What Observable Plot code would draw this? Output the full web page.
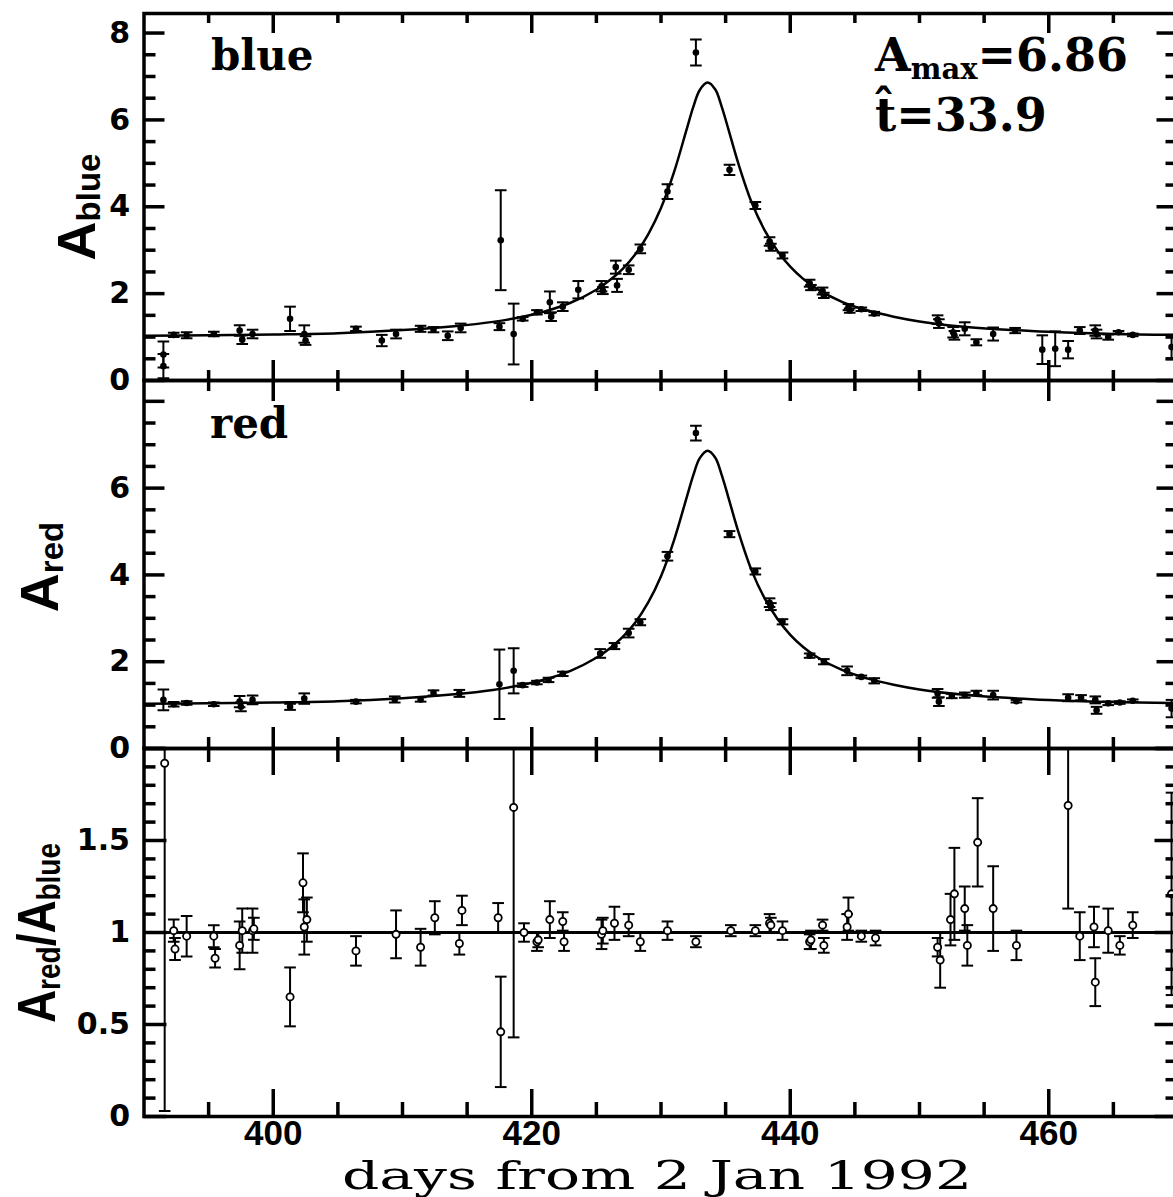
<!DOCTYPE html>
<html><head><meta charset="utf-8">
<script src="https://cdn.jsdelivr.net/npm/d3@7"></script>
<script src="https://cdn.jsdelivr.net/npm/@observablehq/plot@0.6"></script>
<style>
html,body{margin:0;padding:0;background:#fff;overflow:hidden;}
#chart{position:relative;width:1173px;height:1197px;overflow:hidden;background:#fff;}
#chart > div{position:absolute;left:0;width:1180px;}
#chart svg{max-width:none !important;overflow:visible !important;background:transparent !important;display:block;}
</style></head><body><div id="chart"></div>
<script>
// ---------------- data ----------------
const xDomain = [390, 470];
const xMajorTicks = [400, 420, 440, 460];
const xMinorTicks = [395, 405, 410, 415, 425, 430, 435, 445, 450, 455, 465];
const xTickLabels = ["400", "420", "440", "460"];

const ampMajorTicks = [0, 2, 4, 6, 8];
const ampMinorTicks = [0.5, 1, 1.5, 2.5, 3, 3.5, 4.5, 5, 5.5, 6.5, 7, 7.5];
const blueTickValues = [0, 2, 4, 6, 8];
const blueTickLabels = ["0", "2", "4", "6", "8"];
const redTickValues = [0, 2, 4, 6];
const redTickLabels = ["0", "2", "4", "6"];
const ratioMajorTicks = [0, 0.5, 1, 1.5, 2];
const ratioMinorTicks = [0.1, 0.2, 0.3, 0.4, 0.6, 0.7, 0.8, 0.9, 1.1, 1.2, 1.3, 1.4, 1.6, 1.7, 1.8, 1.9];
const ratioTickValues = [0, 0.5, 1, 1.5];
const ratioTickLabels = ["0", "0.5", "1", "1.5"];

const blueDays = [391.5, 391.5, 392.3, 393.3, 395.4, 397.4, 397.6, 398.4, 401.3, 402.4, 402.5, 406.4, 408.4, 409.5, 411.4, 412.4, 413.5, 414.5, 417.5, 417.6, 418.6, 419.3, 420.4, 421.4, 421.5, 422.4, 423.6, 425.4, 425.5, 426.5, 426.6, 427.5, 428.4, 430.5, 432.7, 435.3, 437.3, 438.4, 438.5, 439.4, 441.5, 441.6, 442.5, 442.6, 444.5, 444.6, 445.5, 446.5, 451.4, 451.5, 452.6, 452.7, 453.5, 454.4, 455.7, 457.4, 459.5, 460.5, 461.5, 462.4, 463.6, 463.7, 464.6, 465.4, 466.5, 469.5];
const blueValues = [0.60, 0.33, 1.05, 1.04, 1.07, 1.15, 0.94, 1.07, 1.42, 1.07, 0.92, 1.19, 0.92, 1.07, 1.19, 1.17, 1.03, 1.21, 1.24, 3.23, 1.07, 1.42, 1.57, 1.80, 1.47, 1.70, 2.09, 2.17, 2.07, 2.61, 2.19, 2.55, 3.03, 4.35, 7.55, 4.85, 4.03, 3.20, 3.07, 2.88, 2.24, 2.14, 2.06, 1.96, 1.69, 1.61, 1.64, 1.54, 1.40, 1.31, 1.11, 1.04, 1.19, 0.88, 1.07, 1.15, 0.71, 0.73, 0.71, 1.15, 1.15, 1.07, 1.00, 1.11, 1.05, 0.77];
const blueErrors = [0.30, 0.28, 0.05, 0.07, 0.05, 0.12, 0.10, 0.10, 0.28, 0.20, 0.10, 0.05, 0.13, 0.10, 0.07, 0.06, 0.10, 0.10, 0.08, 1.15, 0.70, 0.04, 0.05, 0.25, 0.10, 0.10, 0.20, 0.12, 0.08, 0.15, 0.15, 0.10, 0.10, 0.17, 0.30, 0.12, 0.08, 0.10, 0.08, 0.07, 0.08, 0.06, 0.08, 0.06, 0.07, 0.05, 0.04, 0.04, 0.10, 0.10, 0.12, 0.10, 0.15, 0.07, 0.15, 0.06, 0.33, 0.40, 0.20, 0.08, 0.12, 0.10, 0.06, 0.03, 0.03, 0.28];

const redDays = [391.5, 392.3, 393.3, 395.4, 397.4, 397.5, 398.4, 401.3, 402.4, 406.4, 409.4, 411.4, 412.4, 414.4, 417.5, 418.6, 419.3, 420.4, 421.3, 422.4, 425.3, 426.4, 427.5, 428.4, 430.5, 432.7, 435.3, 437.3, 438.4, 438.5, 439.4, 441.5, 442.6, 444.4, 445.5, 446.5, 451.4, 451.5, 452.5, 453.5, 454.4, 455.7, 457.5, 461.5, 462.5, 463.6, 463.7, 464.6, 465.5, 466.5, 469.5];
const redValues = [1.12, 1.02, 1.05, 1.02, 1.08, 0.96, 1.12, 0.96, 1.15, 1.08, 1.13, 1.13, 1.28, 1.27, 1.48, 1.79, 1.46, 1.52, 1.58, 1.72, 2.19, 2.36, 2.66, 2.91, 4.43, 7.27, 4.94, 4.08, 3.36, 3.27, 2.92, 2.14, 2.00, 1.79, 1.65, 1.56, 1.27, 1.08, 1.21, 1.23, 1.28, 1.23, 1.09, 1.17, 1.17, 1.12, 0.88, 1.04, 1.06, 1.10, 0.92];
const redErrors = [0.24, 0.05, 0.04, 0.04, 0.13, 0.10, 0.10, 0.07, 0.12, 0.04, 0.07, 0.05, 0.06, 0.08, 0.80, 0.52, 0.04, 0.04, 0.05, 0.05, 0.10, 0.07, 0.10, 0.07, 0.10, 0.17, 0.07, 0.07, 0.10, 0.08, 0.06, 0.05, 0.06, 0.10, 0.03, 0.06, 0.10, 0.10, 0.05, 0.06, 0.05, 0.10, 0.03, 0.08, 0.06, 0.08, 0.08, 0.04, 0.03, 0.03, 0.20];

const ratioDays = [391.6, 392.3, 392.4, 393.3, 395.4, 395.5, 397.4, 397.6, 398.4, 398.5, 401.3, 402.3, 402.4, 402.6, 406.4, 409.5, 411.4, 412.5, 414.4, 414.6, 417.4, 417.6, 418.6, 419.4, 420.4, 420.5, 421.4, 422.4, 422.5, 425.4, 425.5, 426.4, 427.5, 428.4, 430.5, 432.7, 435.4, 437.3, 438.4, 438.5, 439.4, 441.5, 441.6, 442.5, 442.6, 444.4, 444.5, 445.5, 446.6, 451.4, 451.6, 452.4, 452.7, 453.5, 453.7, 454.5, 455.7, 457.5, 461.5, 462.4, 463.5, 463.6, 464.6, 465.5, 466.5, 469.5];
const ratioValues = [1.92, 1.01, 0.91, 0.98, 0.98, 0.86, 0.93, 1.01, 1.01, 1.02, 0.65, 1.27, 1.03, 1.07, 0.90, 0.99, 0.92, 1.08, 0.94, 1.12, 1.08, 0.46, 1.68, 1.00, 0.95, 0.96, 1.07, 1.06, 0.95, 0.99, 1.01, 1.05, 1.04, 0.95, 1.01, 0.95, 1.01, 1.01, 1.05, 1.04, 1.01, 0.95, 0.96, 1.04, 0.93, 1.03, 1.10, 0.98, 0.97, 0.92, 0.85, 1.07, 1.21, 1.13, 0.93, 1.49, 1.13, 0.93, 1.69, 0.98, 1.03, 0.73, 1.01, 0.93, 1.04, 1.21];
const ratioErrors = [1.89, 0.06, 0.06, 0.11, 0.06, 0.05, 0.13, 0.12, 0.12, 0.06, 0.16, 0.16, 0.15, 0.12, 0.08, 0.13, 0.10, 0.09, 0.06, 0.08, 0.08, 0.30, 1.25, 0.05, 0.05, 0.04, 0.10, 0.05, 0.05, 0.08, 0.07, 0.09, 0.06, 0.05, 0.05, 0.03, 0.03, 0.03, 0.05, 0.04, 0.05, 0.04, 0.05, 0.03, 0.04, 0.07, 0.09, 0.03, 0.04, 0.05, 0.15, 0.14, 0.25, 0.12, 0.11, 0.24, 0.23, 0.08, 0.56, 0.13, 0.11, 0.13, 0.12, 0.05, 0.07, 0.55];

// fitted light curve (same curve in both colour panels)
const curveDays = [390, 395, 400, 405, 410, 414, 417, 419, 421, 423, 425, 426, 427, 428, 429, 430, 431, 432, 432.5, 433, 433.6, 434.2, 434.7, 435.2, 436, 437, 438, 439, 440, 441, 442, 444, 446, 448, 450, 453, 456, 460, 465, 470];
const curveValues = [1.03, 1.04, 1.06, 1.09, 1.16, 1.25, 1.35, 1.45, 1.59, 1.79, 2.09, 2.30, 2.56, 2.90, 3.36, 3.97, 4.79, 5.80, 6.30, 6.69, 6.86, 6.70, 6.30, 5.80, 4.98, 4.11, 3.47, 2.99, 2.62, 2.34, 2.12, 1.81, 1.61, 1.47, 1.36, 1.25, 1.18, 1.12, 1.07, 1.05];

const labelBlue = "blue";
const labelRed = "red";
const fitAmax = "6.86";
const fitThat = "33.9";
const xTitle = "days from 2 Jan 1992";

// ---------------- layout ----------------
const W = 1180, ML = 143.5, MR = 2.5;
const CAP = 0.45; // half width of error-bar caps, in days
const tickFont = "DejaVu Sans, Liberation Sans, sans-serif";
const xTickFont = "Liberation Sans Narrow, Liberation Sans, Arial, sans-serif";
const serifFont = "DejaVu Serif, Liberation Serif, serif";
const labelFont = "Liberation Sans, Arial, sans-serif";

const rows = (days, vals, errs) => days.map((d, i) => ({day: d, v: vals[i], e: errs[i]}));
const blue = rows(blueDays, blueValues, blueErrors);
const red = rows(redDays, redValues, redErrors);
const ratio = rows(ratioDays, ratioValues, ratioErrors);
const curve = curveDays.map((d, i) => ({day: d, v: curveValues[i]}));

function errorMarks(data, sw) {
  return [
    Plot.ruleX(data, {x: "day", y1: d => d.v - d.e, y2: d => d.v + d.e, stroke: "black", strokeWidth: sw, clip: true}),
    Plot.link(data, {x1: d => d.day - CAP, x2: d => d.day + CAP, y1: d => d.v + d.e, y2: d => d.v + d.e, stroke: "black", strokeWidth: sw, clip: true}),
    Plot.link(data, {x1: d => d.day - CAP, x2: d => d.day + CAP, y1: d => d.v - d.e, y2: d => d.v - d.e, stroke: "black", strokeWidth: sw, clip: true})
  ];
}

function panel(o) {
  const plotH = o.height - o.marginTop - o.marginBottom;
  const plotW = W - ML - MR;
  const tk = {stroke: "black", strokeWidth: 3.5};
  const marks = [
    ...o.marks,
    Plot.tickX(xMajorTicks, {x: d => d, insetBottom: plotH - o.xMajorLen, ...tk}),
    Plot.tickX(xMajorTicks, {x: d => d, insetTop: plotH - o.xMajorLen, ...tk}),
    Plot.tickX(xMinorTicks, {x: d => d, insetBottom: plotH - o.xMinorLen, ...tk}),
    Plot.tickX(xMinorTicks, {x: d => d, insetTop: plotH - o.xMinorLen, ...tk}),
    Plot.tickY(o.yMajor, {y: d => d, insetRight: plotW - o.yMajorLen, ...tk}),
    Plot.tickY(o.yMajor, {y: d => d, insetLeft: plotW - o.yMajorLen, ...tk}),
    Plot.tickY(o.yMinor, {y: d => d, insetRight: plotW - o.yMinorLen, ...tk}),
    Plot.tickY(o.yMinor, {y: d => d, insetLeft: plotW - o.yMinorLen, ...tk}),
    Plot.frame({stroke: "black", strokeWidth: 3.5}),
    Plot.text(o.yTickValues, {y: d => d, text: (d, i) => o.yTickLabels[i], frameAnchor: "left", dx: -14, textAnchor: "end", lineAnchor: "middle", fontFamily: tickFont, fontWeight: "bold", fontSize: 30, fill: "black"})
  ];
  if (o.xLabels) marks.push(Plot.text(xMajorTicks, {x: d => d, text: (d, i) => xTickLabels[i], frameAnchor: "bottom", dy: 17, lineAnchor: "middle", fontFamily: xTickFont, fontWeight: "bold", fontSize: 35, fill: "black"}));
  return Plot.plot({
    width: W, height: o.height,
    marginLeft: ML, marginRight: MR, marginTop: o.marginTop, marginBottom: o.marginBottom,
    x: {domain: xDomain, axis: null},
    y: {domain: o.yDomain, axis: null},
    marks
  });
}

const p1 = panel({
  height: 381, marginTop: 13, marginBottom: 1, yDomain: [0, 8.45],
  yMajor: ampMajorTicks, yMinor: ampMinorTicks, yTickValues: blueTickValues, yTickLabels: blueTickLabels,
  xMajorLen: 20, xMinorLen: 10, yMajorLen: 21, yMinorLen: 12,
  marks: [
    ...errorMarks(blue, 2),
    Plot.line(curve, {x: "day", y: "v", curve: "catmull-rom", stroke: "black", strokeWidth: 2.5}),
    Plot.dot(blue, {x: "day", y: "v", r: 3.3, fill: "black"})
  ]
});
const p2 = panel({
  height: 369, marginTop: 0, marginBottom: 1, yDomain: [0, 8.48],
  yMajor: ampMajorTicks, yMinor: ampMinorTicks, yTickValues: redTickValues, yTickLabels: redTickLabels,
  xMajorLen: 21, xMinorLen: 11, yMajorLen: 21, yMinorLen: 12,
  marks: [
    ...errorMarks(red, 2),
    Plot.line(curve, {x: "day", y: "v", curve: "catmull-rom", stroke: "black", strokeWidth: 2.5}),
    Plot.dot(red, {x: "day", y: "v", r: 3.3, fill: "black"})
  ]
});
const p3 = panel({
  height: 449, marginTop: 0, marginBottom: 81, yDomain: [0, 2],
  yMajor: ratioMajorTicks, yMinor: ratioMinorTicks, yTickValues: ratioTickValues, yTickLabels: ratioTickLabels,
  xMajorLen: 27, xMinorLen: 14, yMajorLen: 23, yMinorLen: 12, xLabels: true,
  marks: [
    Plot.ruleY([1], {stroke: "black", strokeWidth: 3}),
    ...errorMarks(ratio, 2),
    Plot.dot(ratio, {x: "day", y: "v", r: 3.6, fill: "white", stroke: "black", strokeWidth: 1.8})
  ]
});

const chart = document.getElementById("chart");
[[p1, 0], [p2, 380], [p3, 748]].forEach(([p, top]) => {
  const d = document.createElement("div");
  d.style.top = top + "px";
  d.appendChild(p);
  chart.appendChild(d);
});

// ---------------- text annotations ----------------
function addText(svg, x, y, parts, opts) {
  const t = d3.select(svg).append("text")
    .attr("x", x).attr("y", y)
    .attr("font-family", opts.font).attr("font-weight", opts.weight || "bold")
    .attr("fill", "black")
    .attr("text-anchor", opts.anchor || "start");
  if (opts.rotate) t.attr("transform", `rotate(-90 ${x} ${y})`);
  parts.forEach(p => t.append("tspan").attr("font-size", p.size).attr("dy", p.dy || 0).text(p.text));
  if (opts.length) t.attr("textLength", opts.length).attr("lengthAdjust", "spacingAndGlyphs");
  return t;
}

addText(p1, 211, 70, [{text: labelBlue, size: 42}], {font: serifFont});
addText(p2, 210, 58, [{text: labelRed, size: 42}], {font: serifFont});
addText(p1, 875, 71, [{text: "A", size: 46}, {text: "max", size: 29, dy: 8}, {text: "=" + fitAmax, size: 46, dy: -8}], {font: serifFont});
addText(p1, 875, 131, [{text: "t\u0302=" + fitThat, size: 46}], {font: serifFont});

addText(p1, 95, 207, [{text: "A", size: 54}, {text: "blue", size: 33, dy: 5}], {font: labelFont, anchor: "middle", rotate: true});
addText(p2, 58, 187, [{text: "A", size: 54}, {text: "red", size: 33, dy: 5}], {font: labelFont, anchor: "middle", rotate: true});
addText(p3, 55, 185, [{text: "A", size: 54}, {text: "red", size: 33, dy: 5}, {text: "/", size: 54, dy: -5}, {text: "A", size: 54}, {text: "blue", size: 33, dy: 5}], {font: labelFont, anchor: "middle", rotate: true, length: 180});

addText(p3, 657, 441, [{text: xTitle, size: 40}], {font: serifFont, weight: "normal", anchor: "middle", length: 630});
</script></body></html>
